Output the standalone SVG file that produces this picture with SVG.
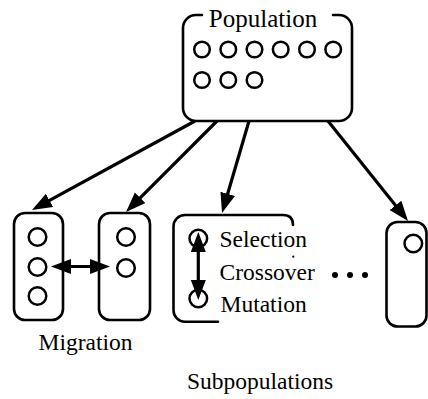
<svg xmlns="http://www.w3.org/2000/svg" width="428" height="399" viewBox="0 0 428 399">
  <style>
    .box { fill: none; stroke: #000; stroke-width: 2.6; stroke-linecap: round; stroke-linejoin: round; }
    .ind { fill: none; stroke: #000; stroke-width: 2.5; }
    .arrow { fill: none; stroke: #000; stroke-width: 3.2; }
    .lbl { font-family: "Liberation Serif", "Times New Roman", serif; font-size: 23.5px; fill: #000; }
  </style>
  <defs>
    <marker id="head" markerUnits="userSpaceOnUse" markerWidth="22" markerHeight="16" refX="12" refY="7.5" orient="auto-start-reverse">
      <path d="M0,0 L20,7.5 L0,15 Z" fill="#000"/>
    </marker>
  </defs>
  <rect width="428" height="399" fill="#fff"/>

  <!-- whole population -->
  <g id="population">
    <path class="box" d="M202 15 H196 A13 13 0 0 0 183 28 V108 A13 13 0 0 0 196 121 H339 A13 13 0 0 0 352 108 V28 A13 13 0 0 0 339 15 H333"/>
    <text class="lbl" x="263" y="27" text-anchor="middle" style="font-size:25px">Population</text>
    <circle class="ind" cx="202" cy="49.5" r="7.8"/>
    <circle class="ind" cx="228.3" cy="49.5" r="7.8"/>
    <circle class="ind" cx="254.5" cy="49.5" r="7.8"/>
    <circle class="ind" cx="280.7" cy="49.5" r="7.8"/>
    <circle class="ind" cx="307" cy="49.5" r="7.8"/>
    <circle class="ind" cx="333.2" cy="49.5" r="7.8"/>
    <circle class="ind" cx="202" cy="80" r="7.8"/>
    <circle class="ind" cx="228.3" cy="80" r="7.8"/>
    <circle class="ind" cx="254.5" cy="80" r="7.8"/>
  </g>

  <!-- subpopulation 1 -->
  <g id="sub1">
    <rect class="box" x="14" y="213" width="49" height="107" rx="11"/>
    <circle class="ind" cx="37.5" cy="237" r="8.8"/>
    <circle class="ind" cx="37.5" cy="267" r="8.8"/>
    <circle class="ind" cx="37.5" cy="296" r="8.8"/>
  </g>

  <!-- subpopulation 2 -->
  <g id="sub2">
    <rect class="box" x="99" y="213" width="51" height="107" rx="11"/>
    <circle class="ind" cx="126" cy="237" r="8.8"/>
    <circle class="ind" cx="126" cy="268" r="8.8"/>
  </g>

  <!-- subpopulation 3 with genetic operators -->
  <g id="sub3">
    <path class="box" d="M218 321.7 H185 A11.5 11.5 0 0 1 173.5 310.2 V226.5 A11.5 11.5 0 0 1 185 215 H283 Q293 215 293 225"/>
    <circle class="ind" cx="198.3" cy="238.5" r="8.8"/>
    <circle class="ind" cx="198.3" cy="298.5" r="8.8"/>
    <text class="lbl" x="219.5" y="246.5">Selection</text>
    <text class="lbl" x="219.5" y="280">Crossover</text>
    <text class="lbl" x="220.5" y="311.5">Mutation</text>
    <circle cx="293.3" cy="256.7" r="1.1" fill="#000"/>
  </g>

  <!-- ellipsis -->
  <g id="more">
    <circle cx="335" cy="275" r="3" fill="#000"/>
    <circle cx="350" cy="275" r="3" fill="#000"/>
    <circle cx="365" cy="275" r="3" fill="#000"/>
  </g>

  <!-- subpopulation n -->
  <g id="subN">
    <rect class="box" x="386.5" y="222" width="40" height="104.5" rx="11"/>
    <circle class="ind" cx="413.3" cy="243.5" r="8.8"/>
  </g>

  <!-- connectors -->
  <g id="connectors">
    <path class="arrow" d="M195 121 L39 206.2" marker-end="url(#head)"/>
    <path class="arrow" d="M217 121 L131.7 206.3" marker-end="url(#head)"/>
    <path class="arrow" d="M249 121 L224.3 205.3" marker-end="url(#head)"/>
    <path class="arrow" d="M328 121 L403 214.8" marker-end="url(#head)"/>
    <path class="arrow" d="M59 266.5 L102 266.5" marker-start="url(#head)" marker-end="url(#head)"/>
    <path class="arrow" d="M198.3 240 L198.3 292" marker-start="url(#head)" marker-end="url(#head)"/>
  </g>

  <!-- captions -->
  <text class="lbl" x="38.5" y="350">Migration</text>
  <text class="lbl" x="187" y="388.5">Subpopulations</text>
</svg>
